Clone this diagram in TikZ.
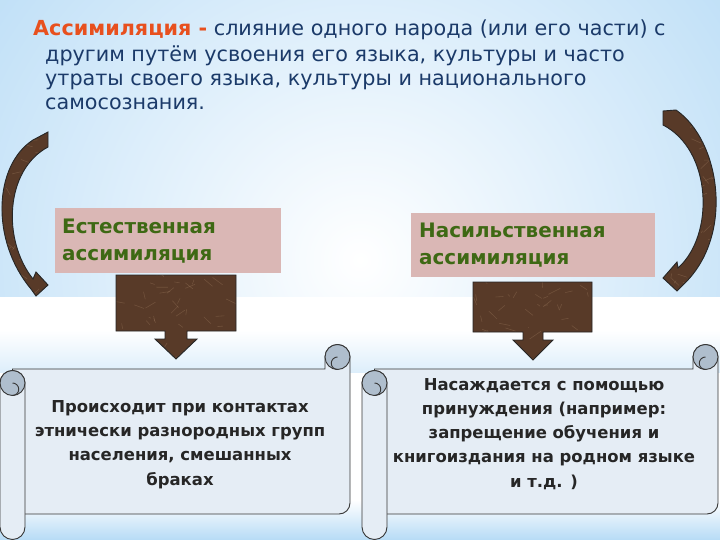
\documentclass[tikz,border=0pt]{standalone}
\usepackage{fontspec}
\setmainfont{DejaVu Sans}
\usetikzlibrary{calc}
\definecolor{skyb}{RGB}{158,207,243}
\definecolor{titleblue}{RGB}{27,58,105}
\definecolor{titleorange}{RGB}{232,80,30}
\definecolor{pinkfill}{RGB}{218,183,181}
\definecolor{greentext}{RGB}{62,105,20}
\definecolor{brownA}{RGB}{88,58,40}
\definecolor{brownL}{RGB}{170,135,105}
\definecolor{scrollfill}{RGB}{229,237,245}
\definecolor{curlfill}{RGB}{175,190,205}
\definecolor{edgegray}{RGB}{55,55,55}
\newcommand{\marbletex}[4]{%
  \fill[brownA] (#1,#2) rectangle ++(#3,#4);
  \foreach \k in {1,...,45}{
    \pgfmathsetmacro{\px}{#1+#3*rnd}
    \pgfmathsetmacro{\py}{#2+#4*rnd}
    \pgfmathsetmacro{\dx}{24*rnd-12}
    \pgfmathsetmacro{\dy}{16*rnd-8}
    \draw[brownL, opacity=.3, line width=.6] (\px,\py) -- ++(\dx,\dy);
  }}
\newcommand{\myscroll}[2]{%
  \begin{scope}[shift={(#1,0)}]
    \pgfmathsetmacro{\W}{#2}
    \draw[scrolledge, fill=scrollfill] (12.5,369) -- (\W-25,369) -- (\W-25,357)
      arc[start angle=180,end angle=360,radius=12.5] -- (\W,503)
      arc[start angle=0,end angle=90,radius=11] -- (12.5,514) -- cycle;
    \draw[scrolledge, fill=curlfill] (\W-12.5,357) circle (12.5);
    \draw[scrolledge] (\W-12.5,357) arc[start angle=270,end angle=90,radius=6.25];
    \draw[scrolledge, fill=scrollfill] (0,383) -- (0,527)
      arc[start angle=180,end angle=0,radius=12.5] -- (25,383)
      arc[start angle=0,end angle=-180,radius=12.5] -- cycle;
    \draw[scrolledge, fill=curlfill] (12.5,383) circle (12.5);
    \draw[scrolledge] (12.5,395.5) arc[start angle=90,end angle=-90,radius=6.25];
  \end{scope}}
\begin{document}
\begin{tikzpicture}[x=1bp,y=-1bp,
  scrolledge/.style={draw=edgegray, line width=0.9bp},
  brownedge/.style={draw=black!85, line width=0.9bp},
  titletext/.style={anchor=base west, inner sep=0, text=titleblue, font=\fontsize{20.8}{24}\selectfont},
  pinkbox/.style={fill=pinkfill, anchor=north west, align=left, text=greentext,
    font=\bfseries\fontsize{20}{27}\selectfont, inner ysep=0},
  scrolltext/.style={anchor=base, align=center, inner sep=0, text=black!85,
    font=\bfseries\fontsize{16.5}{24.3}\selectfont}]
\useasboundingbox (0,0) rectangle (720,540);
% background
\begin{scope}
  \clip (0,0) rectangle (720,297);
  \shade[inner color=white, outer color=skyb] (360,260) circle (700);
\end{scope}
\fill[white] (0,297) rectangle (720,540);
\shade[top color=white, bottom color=skyb!75] (0,500) rectangle (720,540);
\shade[top color=white, bottom color=skyb!35] (0,330) rectangle (720,372);
% title
\node[titletext] (t1) at (33,36) {\textcolor{titleorange}{\bfseries Ассимиляция -} слияние одного народа (или его части) с};
\node[titletext] (t2) at (45,62) {другим путём усвоения его языка, культуры и часто};
\node[titletext] (t3) at (45,86) {утраты своего языка, культуры и национального};
\node[titletext] (t4) at (45,110) {самосознания.};
% curved arrows
\pgfmathsetseed{7}
\begin{scope}
  \clip (33,140) -- (48,132) -- (48,147) .. controls (5,170) and (2,240) .. (33,279)
    -- (36,272) -- (48,285) -- (36,296) -- (31,289) .. controls (-10,240) and (-6,165) .. (33,140) -- cycle;
  \marbletex{0}{130}{50}{170}
\end{scope}
\draw[brownedge] (33,140) -- (48,132) -- (48,147) .. controls (5,170) and (2,240) .. (33,279)
    -- (36,272) -- (48,285) -- (36,296) -- (31,289) .. controls (-10,240) and (-6,165) .. (33,140) -- cycle;
\begin{scope}
  \clip (663,111) -- (676,110) .. controls (720,140) and (735,235) .. (684,284)
    -- (677,291) -- (663,278) -- (677,262) -- (678,268) .. controls (715,235) and (712,150) .. (663,125) -- cycle;
  \marbletex{660}{105}{60}{190}
\end{scope}
\draw[brownedge] (663,111) -- (676,110) .. controls (720,140) and (735,235) .. (684,284)
    -- (677,291) -- (663,278) -- (677,262) -- (678,268) .. controls (715,235) and (712,150) .. (663,125) -- cycle;
% pink boxes
\node[pinkbox, minimum width=226bp, minimum height=65bp, text width=212bp, inner xsep=7bp] (nat) at (55,208) {Естественная\\ассимиляция};
\node[pinkbox, minimum width=244bp, minimum height=64bp, text width=228bp, inner xsep=8bp] (vio) at (411,213) {Насильственная\\ассимиляция};
% block arrows
\begin{scope}
  \clip (116,275) -- (236,275) -- (236,331) -- (187,331) -- (187,339) -- (197,339) -- (176,359)
    -- (155,339) -- (165,339) -- (165,331) -- (116,331) -- cycle;
  \marbletex{110}{270}{130}{95}
\end{scope}
\draw[brownedge] (116,275) -- (236,275) -- (236,331) -- (187,331) -- (187,339) -- (197,339) -- (176,359)
    -- (155,339) -- (165,339) -- (165,331) -- (116,331) -- cycle;
\begin{scope}
  \clip (473,282) -- (592,282) -- (592,332) -- (543,332) -- (543,340) -- (553,340) -- (533,360)
    -- (513,340) -- (523,340) -- (523,332) -- (473,332) -- cycle;
  \marbletex{470}{278}{125}{85}
\end{scope}
\draw[brownedge] (473,282) -- (592,282) -- (592,332) -- (543,332) -- (543,340) -- (553,340) -- (533,360)
    -- (513,340) -- (523,340) -- (523,332) -- (473,332) -- cycle;
% scrolls
\myscroll{0}{350}
\myscroll{362}{356}
\node[scrolltext] (s1) at (180,485) {Происходит при контактах\\этнически разнородных групп\\населения, смешанных\\браках};
\node[scrolltext] (s2) at (544,487) {Насаждается с помощью\\принуждения (например:\\запрещение обучения и\\книгоиздания на родном языке\\и т.д. )};
\end{tikzpicture}
\end{document}
